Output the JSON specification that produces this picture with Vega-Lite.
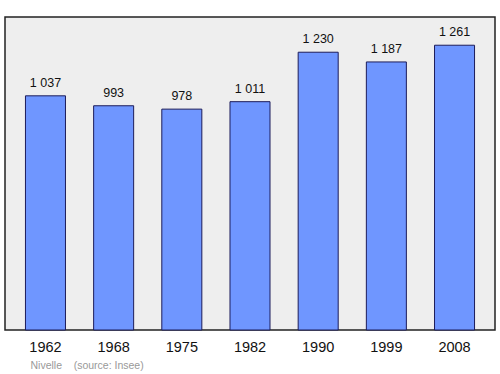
{
  "$schema": "https://vega.github.io/schema/vega-lite/v6.json",
  "autosize": "none",
  "width": 490,
  "height": 313,
  "padding": {"left": 5, "top": 17, "right": 5, "bottom": 44},
  "background": "white",
  "config": {
    "font": "Liberation Sans",
    "view": {"fill": "#eeeeee", "stroke": "#222222", "strokeWidth": 1.5}
  },
  "data": {
    "values": [
      {"year": "1962", "pop": 1037, "label": "1 037"},
      {"year": "1968", "pop": 993, "label": "993"},
      {"year": "1975", "pop": 978, "label": "978"},
      {"year": "1982", "pop": 1011, "label": "1 011"},
      {"year": "1990", "pop": 1230, "label": "1 230"},
      {"year": "1999", "pop": 1187, "label": "1 187"},
      {"year": "2008", "pop": 1261, "label": "1 261"}
    ]
  },
  "encoding": {
    "x": {
      "field": "year",
      "type": "ordinal",
      "scale": {"paddingInner": 0.413, "paddingOuter": 0.3},
      "axis": {
        "labelAngle": 0,
        "labelFontSize": 14.5,
        "labelColor": "#111111",
        "labelPadding": 10,
        "ticks": false,
        "domain": false,
        "title": "Nivelle\u00a0\u00a0\u00a0\u00a0(source: Insee)",
        "titleFontSize": 10.5,
        "titleFontWeight": "normal",
        "titleColor": "#999999",
        "titleAlign": "left",
        "titleAnchor": "start",
        "titleBaseline": "middle",
        "titleX": 25,
        "titleY": 35
      }
    },
    "y": {
      "field": "pop",
      "type": "quantitative",
      "scale": {"domain": [0, 1386], "nice": false},
      "axis": null
    }
  },
  "layer": [
    {
      "mark": {"type": "bar", "color": "#6f96ff", "stroke": "#1c1c5a", "strokeWidth": 1, "cornerRadius": 0}
    },
    {
      "mark": {"type": "text", "baseline": "alphabetic", "dy": -9, "fontSize": 12.5, "color": "#111111"},
      "encoding": {"text": {"field": "label"}}
    }
  ]
}
